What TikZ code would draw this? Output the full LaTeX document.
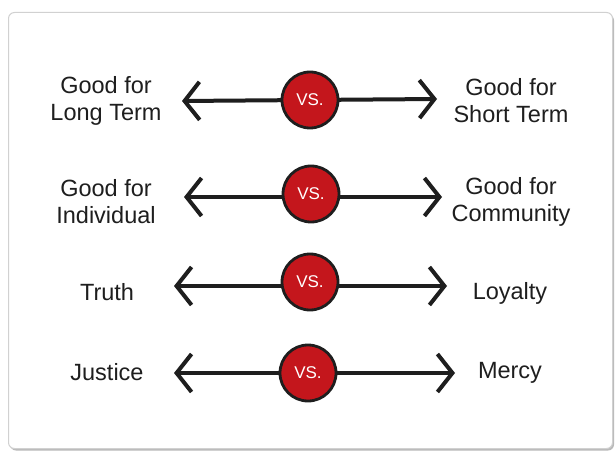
\documentclass[tikz,border=0pt]{standalone}
\usepackage{fontspec}
\setmainfont{Liberation Sans}
\usetikzlibrary{arrows.meta,shadows}
\definecolor{vsred}{HTML}{C4161C}
\definecolor{ink}{HTML}{1E1E1E}
\tikzset{
  x=1pt,y=-1pt,
  card/.style={draw=black!18,line width=1pt,fill=white,rounded corners=6pt,
    drop shadow={shadow xshift=1.5pt,shadow yshift=-2pt,fill=black!45,opacity=0.6}},
  vsball/.style={circle,draw=ink,line width=2.8pt,fill=vsred,minimum size=56pt,inner sep=0pt,
    text=white,font=\fontsize{17}{17}\selectfont},
  label/.style={align=center,text=ink,font=\fontsize{23.5}{27}\selectfont},
  vsarrow/.style={draw=ink,line width=4pt,line cap=round,
    arrows={Straight Barb[length=15pt,width=38pt,line width=4pt]-Straight Barb[length=15pt,width=38pt,line width=4pt]}},
}
\begin{document}
\begin{tikzpicture}
\useasboundingbox (0,0) rectangle (615,454);
\fill[white] (0,0) rectangle (615,454);
\node[card,minimum width=604pt,minimum height=436pt,anchor=north west] (cardbox) at (8,12) {};
% row 1
\coordinate (l1) at (182,101);
\coordinate (r1) at (437,99);
\draw[vsarrow] (l1) -- (r1);
\node[vsball] (v1) at (310,100) {VS.};
\node[label] (a1) at (106,101) {Good for\\Long Term};
\node[label] (b1) at (511,101) {Good for\\Short Term};
% row 2
\coordinate (l2) at (184,197);
\coordinate (r2) at (442,197);
\draw[vsarrow] (l2) -- (r2);
\node[vsball] (v2) at (311,194) {VS.};
\node[label] (a2) at (106,202) {Good for\\Individual};
\node[label] (b2) at (511,202) {Good for\\Community};
% row 3
\coordinate (l3) at (174,286);
\coordinate (r3) at (447,286);
\draw[vsarrow] (l3) -- (r3);
\node[vsball] (v3) at (310,282) {VS.};
\node[label] (a3) at (107,292) {Truth};
\node[label] (b3) at (510,293) {Loyalty};
% row 4
\coordinate (l4) at (174,373);
\coordinate (r4) at (455,373);
\draw[vsarrow] (l4) -- (r4);
\node[vsball] (v4) at (308,373) {VS.};
\node[label] (a4) at (107,372) {Justice};
\node[label] (b4) at (510,373) {Mercy};
\end{tikzpicture}
\end{document}
